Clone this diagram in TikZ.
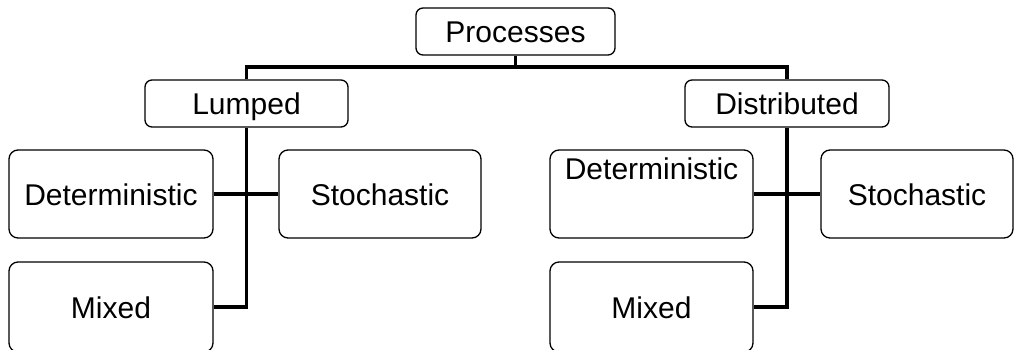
\documentclass[tikz,border=0pt]{standalone}
\usepackage{fontspec}
\setmainfont{Liberation Sans}
\begin{document}
\begin{tikzpicture}[x=1pt,y=-1pt,
  box/.style={draw=black, line width=1.3pt, rounded corners=9pt, inner sep=0pt,
    text height=22pt, text depth=0pt,
    font=\fontsize{30}{34}\selectfont},
  small/.style={box, rounded corners=7pt, minimum height=47pt},
  big/.style={box, minimum height=88pt},
  conn/.style={draw=black, line width=3.4pt, line join=miter}]
\useasboundingbox (0,0) rectangle (1015,349);

% top level
\node[small, minimum width=199pt] (proc) at (515.5,31.5) {Processes};
\coordinate (bar) at (0,67);

% second level
\node[small, minimum width=203pt] (lump) at (246.5,103.5) {Lumped};
\node[small, minimum width=204pt] (dist) at (787,103.5) {Distributed};

% lumped branch
\node[big, minimum width=204pt] (detL) at (111,194) {Deterministic};
\node[big, minimum width=202pt] (stoL) at (380,194) {Stochastic};
\node[big, minimum width=204pt, minimum height=90pt] (mixL) at (111,307) {Mixed};

% distributed branch
\node[big, minimum width=203pt, text depth=52pt] (detR) at (651.5,194) {Deterministic};
\node[big, minimum width=192pt] (stoR) at (917,194) {Stochastic};
\node[big, minimum width=203pt, minimum height=90pt] (mixR) at (651.5,307) {Mixed};

% connectors
\draw[conn] (proc.south) -- (proc.south |- bar);
\draw[conn] (lump.north) -- (lump.north |- bar) -- (dist.north |- bar) -- (dist.north);

\draw[conn] (lump.south) -- (lump.south |- mixL.east) -- (mixL.east);
\draw[conn] (detL.east) -- (stoL.west);

\draw[conn] (dist.south) -- (dist.south |- mixR.east) -- (mixR.east);
\draw[conn] (detR.east) -- (stoR.west);
\end{tikzpicture}
\end{document}
